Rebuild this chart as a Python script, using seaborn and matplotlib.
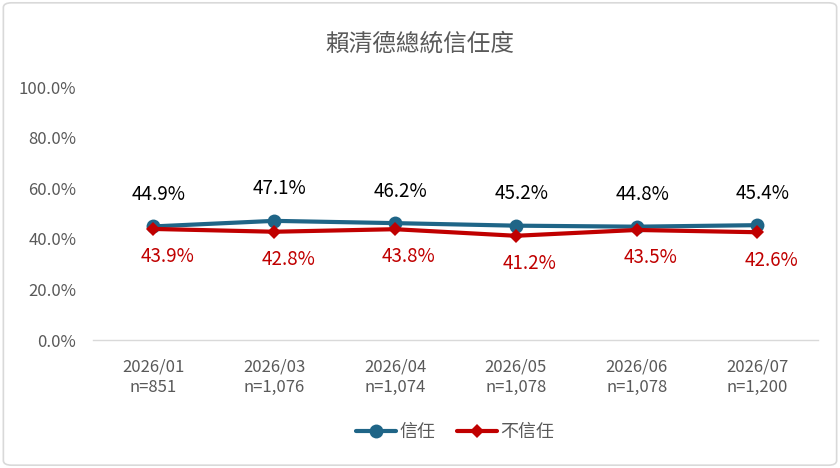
import matplotlib
matplotlib.use("Agg")
import matplotlib.pyplot as plt
import seaborn as sns
import pandas as pd
from matplotlib.patches import FancyBboxPatch

sns.set_style("white")
plt.rcParams["font.family"] = ["Noto Sans CJK TC", "DejaVu Sans"]

# data
months = ["2026/01", "2026/03", "2026/04", "2026/05", "2026/06", "2026/07"]
samples = ["n=851", "n=1,076", "n=1,074", "n=1,078", "n=1,078", "n=1,200"]
trust = [44.9, 47.1, 46.2, 45.2, 44.8, 45.4]
distrust = [43.9, 42.8, 43.8, 41.2, 43.5, 42.6]

blue = "#1f6587"
red = "#c00000"
grey = "#595959"

df = pd.DataFrame({"idx": range(len(months)), "信任": trust, "不信任": distrust})

fig = plt.figure(figsize=(8.4, 4.68), dpi=100)
ax = fig.add_axes([0.1107, 0.2735, 0.863, 0.5405])

sns.lineplot(data=df, x="idx", y="信任", ax=ax, color=blue, linewidth=3,
             marker="o", markersize=10, markeredgewidth=0, label="信任")
sns.lineplot(data=df, x="idx", y="不信任", ax=ax, color=red, linewidth=3,
             marker="D", markersize=7.5, markeredgewidth=0, label="不信任")

for i, v in enumerate(trust):
    ax.annotate(f"{v:.1f}%", (i, v), xytext=(4, 23), textcoords="offset points",
                ha="center", va="center", fontsize=13.5, color="black")
for i, v in enumerate(distrust):
    ax.annotate(f"{v:.1f}%", (i, v), xytext=(10, -20), textcoords="offset points",
                ha="center", va="center", fontsize=13.5, color=red)

ax.set_xlim(-0.5, len(months) - 0.5)
ax.set_ylim(0, 100)
ax.set_yticks(range(0, 101, 20))
ax.set_yticklabels([f"{t:.1f}%" for t in range(0, 101, 20)], fontsize=12, color=grey)
ax.set_xticks(range(len(months)))
ax.set_xticklabels([f"{m}\n{n}" for m, n in zip(months, samples)], fontsize=12,
                   color=grey, linespacing=1.3)
ax.tick_params(axis="y", length=0, pad=12)
ax.tick_params(axis="x", length=0, pad=13)
ax.set_xlabel("")
ax.set_ylabel("")
for s in ["top", "right", "left"]:
    ax.spines[s].set_visible(False)
ax.spines["bottom"].set_color("#d9d9d9")
ax.spines["bottom"].set_linewidth(1)

fig.text(0.5, 0.905, "賴清德總統信任度", ha="center", va="center", fontsize=17, color=grey)

leg = ax.legend(loc="center", bbox_to_anchor=(0.5, -0.364), ncol=2, frameon=False,
                fontsize=13, handlelength=2.2, columnspacing=1.2, handletextpad=0.2)
for t in leg.get_texts():
    t.set_color(grey)

fig.patches.append(FancyBboxPatch((0.004, 0.006), 0.992, 0.988, boxstyle="round,pad=0,rounding_size=0.01",
                                  transform=fig.transFigure, facecolor="none",
                                  edgecolor="#d9d9d9", linewidth=1.2))

fig.savefig("out.png", dpi=100)
